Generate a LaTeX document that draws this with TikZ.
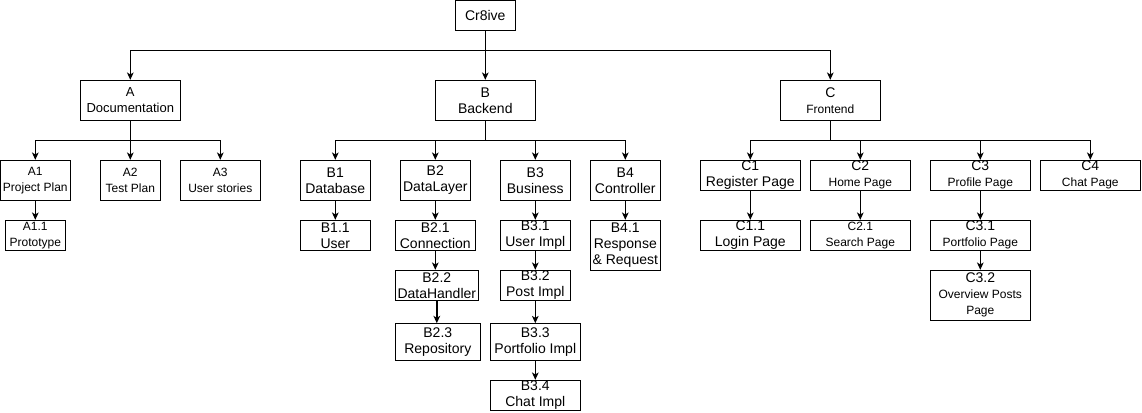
\documentclass[tikz,border=0pt]{standalone}
\usepackage{fontspec}
\setmainfont{Liberation Sans}
\usetikzlibrary{arrows.meta}
\tikzset{>={Stealth[length=5.5pt,width=5pt,inset=1.5pt]}}
\newcommand{\smtxt}{\fontsize{9pt}{12pt}\selectfont}
\newcommand{\midtxt}{\fontsize{9.75pt}{12pt}\selectfont}
\newcommand{\bigtxt}{\fontsize{10.5pt}{12pt}\selectfont}

\begin{document}
\begin{tikzpicture}[x=0.75pt,y=-0.75pt,line width=0.75pt,
    box/.style 2 args={draw,align=center,inner sep=0pt,
      minimum width=#1*0.75pt,minimum height=#2*0.75pt,font=\bigtxt}]
      \useasboundingbox (0,0) rectangle (1142,413);

      % top levels
      \node[box={60}{30}] (root) at (485.3,15.3) {Cr8ive};
      \node[box={100}{40},font=\midtxt] (A) at (130.3,100.3) {A\\Documentation};
      \node[box={100}{40}] (B) at (485.3,100.3) {B\\Backend};
      \node[box={100}{40}] (C) at (830.3,100.3) {C\\\smtxt Frontend};

      % documentation
      \node[box={70}{40},font=\smtxt] (A1) at (35.3,180.3) {A1\\Project Plan};
      \node[box={60}{40},font=\smtxt] (A2) at (130.3,180.3) {A2\\Test Plan};
      \node[box={80}{40},font=\smtxt] (A3) at (220.3,180.3) {A3\\User stories};
      \node[box={60}{30},font=\smtxt] (A11) at (35.3,235.3) {A1.1\\Prototype};

      % backend
      \node[box={70}{40}] (B1) at (335.3,180.3) {B1\\Database};
      \node[box={70}{30}] (B11) at (335.3,235.3) {B1.1\\User};
      \node[box={70}{40}] (B2) at (435.3,180.3) {B2\\DataLayer};
      \node[box={80}{30}] (B21) at (435.3,235.3) {B2.1\\Connection};
      \node[box={83}{30}] (B22) at (436.8,285.3) {B2.2\\DataHandler};
      \node[box={85}{36.6}] (B23) at (437.8,342) {B2.3\\Repository};
      \node[box={70}{40}] (B3) at (535.3,180.3) {B3\\Business};
      \node[box={70}{30}] (B31) at (535.3,235.3) {B3.1\\User Impl};
      \node[box={70}{30}] (B32) at (535.3,285.3) {B3.2\\Post Impl};
      \node[box={90}{36.6}] (B33) at (535.3,342) {B3.3\\Portfolio Impl};
      \node[box={90}{30}] (B34) at (535.3,395.3) {B3.4\\Chat Impl};
      \node[box={70}{40}] (B4) at (625.3,180.3) {B4\\Controller};
      \node[box={70}{50}] (B41) at (625.3,245.3) {B4.1\\Response\\\& Request};

      % frontend
      \node[box={100}{30}] (C1) at (750.3,175.3) {C1\\Register Page};
      \node[box={100}{30}] (C11) at (750.3,235.3) {C1.1\\Login Page};
      \node[box={100}{30}] (C2) at (860.3,175.3) {C2\\\smtxt Home Page};
      \node[box={100}{30},font=\smtxt] (C21) at (860.3,235.3) {C2.1\\Search Page};
      \node[box={100}{30}] (C3) at (980.3,175.3) {C3\\\smtxt Profile Page};
      \node[box={100}{30}] (C31) at (980.3,235.3) {C3.1\\\smtxt Portfolio Page};
      \node[box={100}{50}] (C32) at (980.3,295.3) {C3.2\\\smtxt Overview Posts\\\smtxt Page};
      \node[box={100}{30}] (C4) at (1090.3,175.3) {C4\\\smtxt Chat Page};

      % connectors
      \draw[->] (root) -- (B);
      \foreach \n in {A,C}
      \draw[->] (root.south) -- ++(0,20) -| (\n.north);
      \foreach \n in {A1,A2,A3}
      \draw[->] (A.south) -- ++(0,20) -| (\n.north);
      \foreach \n in {B1,B2,B3,B4}
      \draw[->] (B.south) -- ++(0,20) -| (\n.north);
      \foreach \n in {C1,C2,C3,C4}
      \draw[->] (C.south) -- ++(0,20) -| (\n.north);

      \draw[->] (A1) -- (A11);
      \draw[->] (B1) -- (B11);
      \draw[->] (B2) -- (B21);
      \draw[->] (B21.south) -- (B21.south |- B22.north);
      \draw[->,line width=1.5pt] (B22.south) -- (B22.south |- B23.north);
      \draw[->] (B3) -- (B31);
      \draw[->] (B31) -- (B32);
      \draw[->] (B32) -- (B33);
      \draw[->] (B33) -- (B34);
      \draw[->] (B4) -- (B41);
      \draw[->] (C1) -- (C11);
      \draw[->] (C2) -- (C21);
      \draw[->] (C3) -- (C31);
      \draw[->] (C31) -- (C32);
    \end{tikzpicture}
\end{document}
